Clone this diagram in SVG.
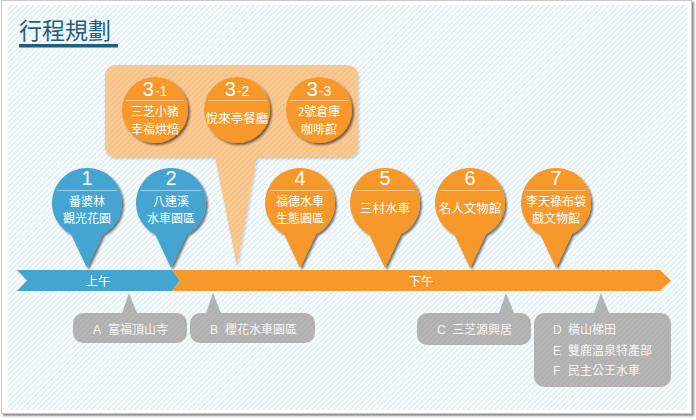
<svg xmlns="http://www.w3.org/2000/svg" width="696" height="420" viewBox="0 0 696 420">
  <defs>
    <pattern id="hatch" width="3.8" height="6" patternUnits="userSpaceOnUse" patternTransform="rotate(45)">
      <rect width="3.8" height="6" fill="#ffffff"/>
      <line x1="1" y1="0" x2="1" y2="6" stroke="#c4e2f1" stroke-width="1"/>
    </pattern>
    <pattern id="hatchO" width="3.8" height="6" patternUnits="userSpaceOnUse" patternTransform="rotate(45)">
      <rect width="3.8" height="6" fill="#fbcb94"/>
      <line x1="1" y1="0" x2="1" y2="6" stroke="#efb87c" stroke-width="1"/>
    </pattern>
    <pattern id="hatchG" width="3.8" height="6" patternUnits="userSpaceOnUse" patternTransform="rotate(45)">
      <rect width="3.8" height="6" fill="#b6b6b6"/>
      <line x1="1" y1="0" x2="1" y2="6" stroke="#aaaaaa" stroke-width="1"/>
    </pattern>
    <filter id="sh" x="-20%" y="-20%" width="150%" height="150%">
      <feDropShadow dx="2" dy="2" stdDeviation="1.3" flood-color="#000" flood-opacity="0.55"/>
    </filter>
    <filter id="shSoft" x="-10%" y="-10%" width="130%" height="130%">
      <feDropShadow dx="1" dy="2" stdDeviation="1.5" flood-color="#000" flood-opacity="0.2"/>
    </filter>
    <filter id="frameSh" x="-5%" y="-5%" width="110%" height="110%">
      <feDropShadow dx="2" dy="2" stdDeviation="1.2" flood-color="#000" flood-opacity="0.45"/>
    </filter>
    <path id="pin" d="M -16 31.1 A 35 35 0 1 1 16 31.1 L 0 65 Z"/>
    <style>
      .cjk { font-family: "Noto Sans CJK TC", "Noto Sans CJK SC", sans-serif; }
      .num { font-family: "Liberation Sans", Arial, sans-serif; fill: #ffffff; text-anchor: middle; }
      .lbl { font-family: "Noto Sans CJK TC", "Noto Sans CJK SC", sans-serif; fill: #ffffff; font-size: 12.5px; text-anchor: middle; }
      .lbl2 { font-family: "Noto Sans CJK TC", "Noto Sans CJK SC", sans-serif; fill: #ffffff; font-size: 12px; text-anchor: middle; }
      .gl { font-family: "Noto Sans CJK TC", "Noto Sans CJK SC", sans-serif; fill: #f6f6f6; font-size: 12px; }
      .glat { font-family: "Liberation Sans", Arial, sans-serif; fill: #f6f6f6; font-size: 12px; }
      .div { stroke: #ffffff; stroke-opacity: 0.45; stroke-width: 1; }
      .blue { fill: #44a5d2; }
      .orange { fill: #f7982a; }
    </style>
  </defs>

  <!-- frame -->
  <rect x="1.5" y="0.5" width="690" height="413" fill="#ffffff" stroke="#c8c8c8" stroke-width="1" filter="url(#frameSh)"/>
  <rect x="8" y="5" width="679" height="405" fill="url(#hatch)"/>

  <!-- title -->
  <g id="title">
    <text x="19" y="39" class="cjk" font-size="23" fill="#1d5f7d">行程規劃</text>
    <rect x="19" y="44" width="99" height="3.5" fill="#1d5f7d"/>
  </g>

  <!-- timeline -->
  <g id="connectors">
    <path d="M17 270 L172 270 L180 280.5 L172 291 L17 291 L27 280.5 Z" fill="#44a5d2"/>
    <path d="M172 270 L660 270 L671 280.5 L660 291 L172 291 L180 280.5 Z" fill="#f7982a"/>
    <text x="98" y="285.5" class="lbl">上午</text>
    <text x="421" y="285.5" class="lbl">下午</text>
  </g>

  <!-- callout for 3 -->
  <g id="node-3">
    <path d="M115 65 H348 A10 10 0 0 1 358 75 V147 A10 10 0 0 1 348 157 H257 L237 266 L215 157 H115 A10 10 0 0 1 105 147 V75 A10 10 0 0 1 115 65 Z" fill="url(#hatchO)" filter="url(#shSoft)"/>
    <g id="node-3-1">
      <circle cx="155" cy="110" r="33" class="orange" filter="url(#sh)"/>
      <text x="155" y="96" class="num"><tspan font-size="20">3</tspan><tspan font-size="14" dx="1">-1</tspan></text>
      <line x1="126" y1="100.5" x2="184" y2="100.5" class="div"/>
      <text class="lbl2"><tspan x="155" y="116">三芝小豬</tspan><tspan x="155" dy="17.5">幸福烘焙</tspan></text>
    </g>
    <g id="node-3-2">
      <circle cx="237" cy="110" r="33" class="orange" filter="url(#sh)"/>
      <text x="237" y="96" class="num"><tspan font-size="20">3</tspan><tspan font-size="14" dx="1">-2</tspan></text>
      <line x1="208" y1="100.5" x2="266" y2="100.5" class="div"/>
      <text x="237" y="123" class="lbl">悅來亭餐廳</text>
    </g>
    <g id="node-3-3">
      <circle cx="319" cy="110" r="33" class="orange" filter="url(#sh)"/>
      <text x="319" y="96" class="num"><tspan font-size="20">3</tspan><tspan font-size="14" dx="1">-3</tspan></text>
      <line x1="290" y1="100.5" x2="348" y2="100.5" class="div"/>
      <text class="lbl2"><tspan x="319" y="116">2號倉庫</tspan><tspan x="319" dy="17.5">咖啡館</tspan></text>
    </g>
  </g>

  <!-- pins -->
  <g id="node-1">
    <use href="#pin" x="87" y="203" class="blue" filter="url(#sh)"/>
    <text x="87" y="185" class="num" font-size="20">1</text>
    <line x1="57" y1="190.5" x2="117" y2="190.5" class="div"/>
    <text class="lbl2"><tspan x="87" y="205.5">番婆林</tspan><tspan x="87" dy="17.5">觀光花園</tspan></text>
  </g>
  <g id="node-2">
    <use href="#pin" x="171" y="203" class="blue" filter="url(#sh)"/>
    <text x="171" y="185" class="num" font-size="20">2</text>
    <line x1="141" y1="190.5" x2="201" y2="190.5" class="div"/>
    <text class="lbl2"><tspan x="171" y="205.5">八連溪</tspan><tspan x="171" dy="17.5">水車園區</tspan></text>
  </g>
  <g id="node-4">
    <use href="#pin" x="300" y="203" class="orange" filter="url(#sh)"/>
    <text x="300" y="185" class="num" font-size="20">4</text>
    <line x1="270" y1="190.5" x2="330" y2="190.5" class="div"/>
    <text class="lbl2"><tspan x="300" y="205.5">福德水車</tspan><tspan x="300" dy="17.5">生態園區</tspan></text>
  </g>
  <g id="node-5">
    <use href="#pin" x="385" y="203" class="orange" filter="url(#sh)"/>
    <text x="385" y="185" class="num" font-size="20">5</text>
    <line x1="355" y1="190.5" x2="415" y2="190.5" class="div"/>
    <text x="385" y="213" class="lbl">三村水車</text>
  </g>
  <g id="node-6">
    <use href="#pin" x="470" y="203" class="orange" filter="url(#sh)"/>
    <text x="470" y="185" class="num" font-size="20">6</text>
    <line x1="440" y1="190.5" x2="500" y2="190.5" class="div"/>
    <text x="470" y="213" class="lbl">名人文物館</text>
  </g>
  <g id="node-7">
    <use href="#pin" x="556" y="203" class="orange" filter="url(#sh)"/>
    <text x="556" y="185" class="num" font-size="20">7</text>
    <line x1="526" y1="190.5" x2="586" y2="190.5" class="div"/>
    <text class="lbl2"><tspan x="556" y="205.5">李天祿布袋</tspan><tspan x="556" dy="17.5">戲文物館</tspan></text>
  </g>

  <!-- gray callouts -->
  <g id="node-A">
    <path d="M83 313 H122 L129 293 L137 313 H177 A10 10 0 0 1 187 323 V333 A10 10 0 0 1 177 343 H83 A10 10 0 0 1 73 333 V323 A10 10 0 0 1 83 313 Z" fill="url(#hatchG)"/>
    <text x="93" y="334" class="glat">A</text>
    <text x="108" y="334" class="gl">富福頂山寺</text>
  </g>
  <g id="node-B">
    <path d="M200 313 H206 L213 293 L221 313 H305 A10 10 0 0 1 315 323 V333 A10 10 0 0 1 305 343 H200 A10 10 0 0 1 190 333 V323 A10 10 0 0 1 200 313 Z" fill="url(#hatchG)"/>
    <text x="210" y="334" class="glat">B</text>
    <text x="225" y="334" class="gl">櫻花水車園區</text>
  </g>
  <g id="node-C">
    <path d="M427 313 H499 L506 293 L514 313 H521 A10 10 0 0 1 531 323 V335 A10 10 0 0 1 521 345 H427 A10 10 0 0 1 417 335 V323 A10 10 0 0 1 427 313 Z" fill="url(#hatchG)"/>
    <text x="437" y="334" class="glat">C</text>
    <text x="452" y="334" class="gl">三芝源興居</text>
  </g>
  <g id="node-DEF">
    <path d="M544 313 H594 L601 293 L609 313 H661 A10 10 0 0 1 671 323 V377 A10 10 0 0 1 661 387 H544 A10 10 0 0 1 534 377 V323 A10 10 0 0 1 544 313 Z" fill="url(#hatchG)"/>
    <text x="553" y="334" class="glat">D</text>
    <text x="568" y="334" class="gl">橫山梯田</text>
    <text x="553" y="355" class="glat">E</text>
    <text x="568" y="355" class="gl">雙鹿溫泉特產部</text>
    <text x="553" y="375" class="glat">F</text>
    <text x="568" y="375" class="gl">民主公王水車</text>
  </g>
</svg>
